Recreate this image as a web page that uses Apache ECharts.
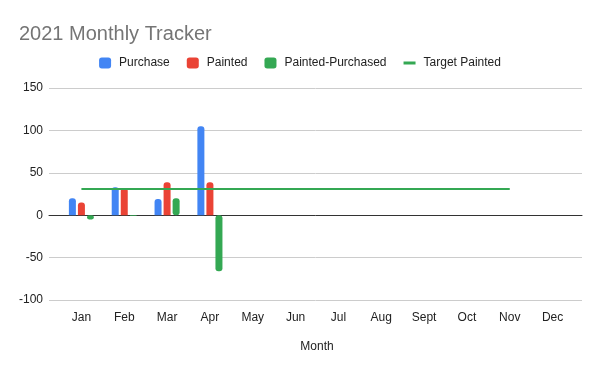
<!DOCTYPE html>
<html><head><meta charset="utf-8">
<script src="https://cdn.jsdelivr.net/npm/echarts@6/dist/echarts.min.js"></script>
<style>html,body{margin:0;padding:0;background:#fff}#c{width:600px;height:371px}</style>
</head><body><div id="c"></div>
<script>
const months = ['Jan','Feb','Mar','Apr','May','Jun','Jul','Aug','Sept','Oct','Nov','Dec'];
const purchase = [20, 33, 19, 105, null, null, null, null, null, null, null, null];
const painted = [15, 32, 39, 39, null, null, null, null, null, null, null, null];
const paintedMinusPurchased = [-5, -1, 20, -66, null, null, null, null, null, null, null, null];
const targetPainted = [31, 31, 31, 31, 31, 31, 31, 31, 31, 31, 31, null];
const yTicks = {min: -100, max: 150, interval: 50};

const chart = echarts.init(document.getElementById('c'), null, {renderer: 'canvas'});
const font = 'Liberation Sans, Arial, sans-serif';
chart.setOption({
  animation: false,
  title: {text: '2021 Monthly Tracker', left: 14, top: 19,
    textStyle: {fontFamily: font, fontSize: 20, fontWeight: 'normal', color: '#757575'}},
  legend: {top: 52, left: 'center', itemWidth: 12, itemHeight: 11, itemGap: 17,
    textStyle: {fontFamily: font, fontSize: 12, color: '#222', padding: [0,0,0,3]},
    data: [
      {name: 'Purchase', icon: 'roundRect'},
      {name: 'Painted', icon: 'roundRect'},
      {name: 'Painted-Purchased', icon: 'roundRect'},
      {name: 'Target Painted', icon: 'path://M0,0 L12,0 L12,3 L0,3 Z'}
    ]},
  grid: [
    {left: 49, right: 18, top: 88, bottom: 71},
    {left: 60, right: 26, top: 88, bottom: 71}
  ],
  xAxis: [
    {gridIndex: 0, type: 'value', min: 0, max: 1, axisLabel: {show: false}, splitLine: {show: false},
      axisTick: {show: false}, axisLine: {show: true, onZero: true, lineStyle: {color: '#333', width: 1}}},
    {gridIndex: 1, type: 'category', data: months, axisLine: {show: false}, axisTick: {show: false},
      axisLabel: {fontFamily: font, fontSize: 12, color: '#222', margin: 12},
      name: 'Month', nameLocation: 'middle', nameGap: 41,
      nameTextStyle: {fontFamily: font, fontSize: 12, color: '#222'}}
  ],
  yAxis: [
    {gridIndex: 0, type: 'value', min: yTicks.min, max: yTicks.max, interval: yTicks.interval,
      axisLine: {show: false}, axisTick: {show: false},
      axisLabel: {fontFamily: font, fontSize: 12, color: '#222', margin: 6},
      splitLine: {lineStyle: {color: '#cccccc', width: 1}}},
    {gridIndex: 1, type: 'value', min: yTicks.min, max: yTicks.max, interval: yTicks.interval,
      show: false, splitLine: {show: false}}
  ],
  series: [
    {name: 'Purchase', type: 'bar', xAxisIndex: 1, yAxisIndex: 1, data: purchase, barWidth: 7, barGap: '29%',
      itemStyle: {color: '#4285f4', borderRadius: [3,3,0,0]}},
    {name: 'Painted', type: 'bar', xAxisIndex: 1, yAxisIndex: 1, data: painted, barWidth: 7, barGap: '29%',
      itemStyle: {color: '#ea4335', borderRadius: [3,3,0,0]}},
    {name: 'Painted-Purchased', type: 'bar', xAxisIndex: 1, yAxisIndex: 1, data: paintedMinusPurchased, barWidth: 7, barGap: '29%',
      itemStyle: {color: '#34a853', borderRadius: 3}},
    {name: 'Target Painted', type: 'line', xAxisIndex: 1, yAxisIndex: 1, data: targetPainted,
      showSymbol: false, symbol: 'none', lineStyle: {color: '#34a853', width: 2}, itemStyle: {color: '#34a853'}}
  ]
});
</script></body></html>
